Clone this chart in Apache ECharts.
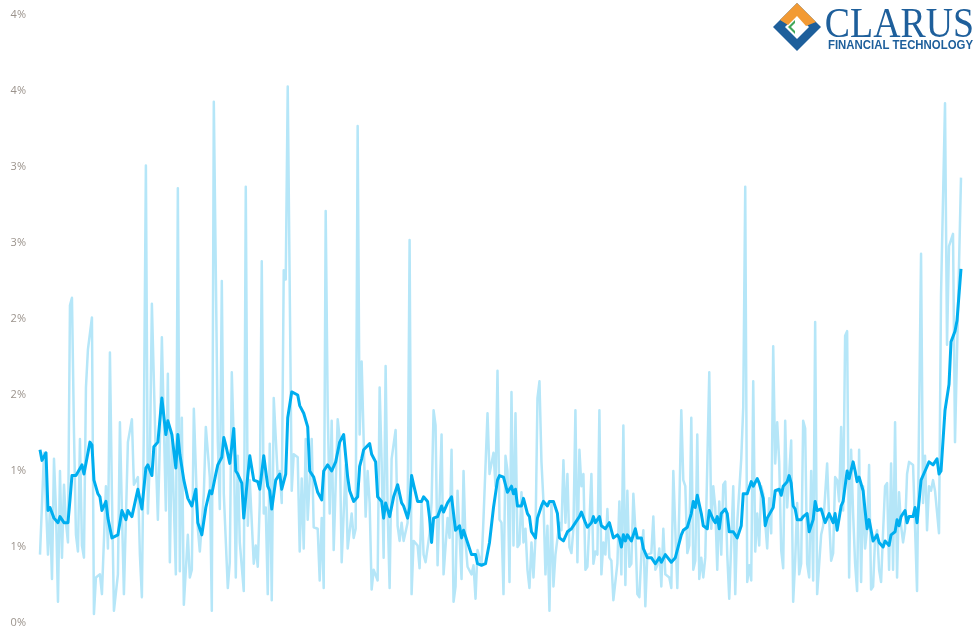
<!DOCTYPE html>
<html>
<head>
<meta charset="utf-8">
<script src="https://cdn.jsdelivr.net/npm/echarts@6/dist/echarts.min.js"></script>
<style>html,body{margin:0;padding:0;background:#fff;}#chart{width:976px;height:638px;}</style>
</head>
<body>
<div id="chart"></div>
<script>
// Trading-day index and daily value (%)
var dailyData = [[0,0.45],[2,1.12],[4,0.45],[5,0.76],[6,0.29],[7,1.08],[8,0.74],[9,0.14],[10,1.00],[11,0.43],[12,0.91],[13,0.66],[14,0.53],[15,2.09],[16,2.14],[17,1.26],[18,0.58],[19,0.47],[20,1.21],[21,0.51],[22,0.43],[23,1.55],[24,1.80],[26,2.01],[27,0.06],[28,0.30],[29,0.29],[30,0.32],[31,0.19],[33,0.90],[34,0.49],[35,1.78],[36,0.85],[37,0.08],[39,0.32],[40,1.32],[41,0.74],[42,0.19],[44,1.19],[46,1.34],[47,0.91],[49,0.96],[50,0.45],[51,0.17],[52,1.30],[53,3.01],[54,0.72],[55,1.08],[56,2.10],[58,1.08],[59,0.68],[60,1.19],[61,1.88],[63,0.74],[64,1.64],[65,0.40],[66,1.24],[68,0.32],[69,2.86],[70,0.34],[71,1.35],[72,0.12],[74,0.58],[75,0.30],
[76,0.35],[77,1.41],[79,0.62],[80,0.47],[81,0.48],[82,0.85],[83,1.29],[85,0.96],[86,0.08],[87,3.43],[89,1.19],[90,0.75],[91,2.25],[92,0.85],[94,0.23],[95,0.40],[96,1.65],[97,1.19],[98,0.30],[99,1.10],[100,0.53],[102,0.21],[103,2.87],[104,0.64],[105,0.94],[107,0.39],[108,0.51],[109,0.37],[110,0.79],[111,2.38],[112,0.72],[113,0.76],[114,0.19],[115,1.18],[116,0.15],[117,1.48],[119,0.96],[120,1.00],[121,0.79],[122,2.32],[123,2.26],[124,3.53],[126,0.87],[127,1.11],[129,1.09],[130,0.47],[131,0.95],[132,0.49],[133,1.21],[134,0.68],[136,1.21],[137,0.63],[139,0.62],[140,0.28],[141,0.69],[142,0.23],[143,2.71],[144,1.42],[145,0.72],[146,1.33],[147,0.48],[149,1.34],
[150,1.22],[151,0.40],[153,1.04],[154,0.49],[156,0.72],[157,0.56],[158,0.62],[159,3.27],[160,1.24],[161,1.72],[163,0.70],[164,1.00],[165,0.79],[166,0.22],[167,0.35],[169,0.28],[170,1.55],[171,1.06],[172,0.43],[173,1.69],[174,0.74],[175,0.23],[176,1.08],[178,1.27],[179,0.64],[180,0.54],[181,0.66],[182,0.54],[184,0.66],[185,2.52],[186,0.19],[187,0.54],[189,0.51],[190,0.36],[191,0.79],[192,0.45],[193,0.40],[195,0.59],[196,0.79],[197,1.40],[198,1.30],[199,0.38],[201,1.24],[202,0.32],[204,0.69],[205,0.56],[206,1.14],[207,0.14],[208,0.24],[209,0.87],[211,0.29],[212,1.00],[213,0.53],[214,0.37],[216,0.32],[217,0.38],[218,0.16],[219,0.48],[220,0.49],[221,0.38],[222,0.69],[224,1.38],[225,0.98],
[227,1.12],[228,0.90],[229,1.66],[230,0.68],[231,0.66],[232,0.19],[233,1.10],[234,1.00],[235,0.27],[236,1.52],[237,0.51],[238,1.38],[239,0.50],[240,0.52],[241,0.86],[242,0.53],[243,0.62],[244,0.35],[245,0.23],[246,0.53],[247,0.30],[248,0.56],[249,1.48],[250,1.59],[251,1.06],[252,0.80],[253,0.32],[254,0.64],[255,0.08],[256,0.80],[257,0.24],[258,0.45],[260,0.66],[261,0.61],[262,1.07],[263,0.66],[264,0.98],[265,0.50],[266,0.46],[267,0.62],[268,1.40],[269,0.40],[270,1.14],[271,0.90],[272,0.98],[273,0.35],[274,0.37],[275,0.66],[276,0.98],[277,0.39],[278,0.47],[279,0.45],[280,1.40],[281,0.32],[282,0.53],[283,0.45],[284,0.75],[285,0.43],[286,0.41],[287,0.15],[289,0.39],[290,0.80],[291,0.32],[292,1.30],[293,0.25],[294,0.87],[295,0.37],[296,0.39],[297,0.85],[298,0.62],[299,0.19],[300,0.17],[301,0.45],[302,0.61],
[303,0.11],[304,0.45],[306,0.46],[307,0.70],[308,0.35],[309,0.38],[310,0.49],[311,0.24],[312,0.62],[313,0.32],[315,0.30],[316,0.23],[317,1.00],[319,0.23],[320,0.76],[321,1.40],[322,0.94],[323,0.90],[324,0.46],[325,0.51],[326,1.35],[327,0.35],[328,0.41],[329,1.24],[330,0.29],[331,0.43],[332,0.30],[333,0.43],[335,1.65],[336,0.62],[337,0.90],[338,0.76],[339,0.35],[340,0.80],[341,0.45],[342,0.91],[343,0.93],[344,0.45],[345,0.16],[346,0.53],[347,0.90],[348,0.19],[349,0.66],[351,1.08],[352,1.42],[353,2.87],[354,0.27],[355,0.38],[356,0.28],[357,1.59],[358,0.47],[359,0.72],[360,0.51],[361,0.90],[362,0.85],[363,0.66],[364,0.49],[365,0.82],[366,0.59],[367,1.82],[368,1.05],[369,1.32],[370,1.06],[371,0.48],[372,0.36],[373,1.33],[374,0.76],[375,0.75],[376,1.20],[377,0.14],[378,0.41],[379,0.79],[380,0.32],[381,0.39],[382,1.33],
[383,1.28],[384,0.39],[385,0.30],[386,1.00],[387,0.28],[388,1.98],[389,0.19],[390,0.19],[391,0.58],[392,0.64],[394,1.05],[395,0.68],[396,0.41],[397,0.46],[398,0.96],[399,0.94],[400,0.80],[401,1.29],[402,0.74],[403,1.89],[404,1.92],[405,0.30],[406,1.14],[407,0.72],[408,0.39],[409,0.21],[410,1.14],[411,0.27],[412,0.90],[413,0.49],[414,0.62],[415,1.04],[416,0.22],[417,0.24],[418,0.56],[419,0.61],[420,0.35],[421,0.27],[422,0.60],[423,0.90],[424,0.92],[425,0.35],[426,1.05],[427,0.35],[428,1.32],[429,0.30],[430,0.86],[431,0.64],[432,0.53],[433,0.62],[434,0.98],[435,1.06],[437,1.04],[439,0.21],[441,2.43],[442,0.79],[443,1.10],[444,0.61],[445,0.90],[446,0.87],[447,0.94],[448,0.87],[450,0.59],[451,2.16],[453,3.42],[454,1.83],[455,2.48],[457,2.56],[458,1.19],[461,2.93]];

// Moving average (%)
var avgData = [[0,1.14],[1,1.07],[3,1.12],[4,0.74],[5,0.76],[7,0.69],[9,0.66],[10,0.70],[12,0.66],[14,0.66],[15,0.81],[16,0.97],[18,0.97],[21,1.04],[22,0.98],[25,1.19],[26,1.17],[27,0.94],[29,0.85],[30,0.83],[31,0.74],[33,0.80],[34,0.69],[36,0.56],[39,0.58],[41,0.74],[43,0.68],[44,0.74],[46,0.70],[48,0.82],[49,0.88],[51,0.75],[53,1.02],[54,1.04],[56,0.97],[57,1.16],[59,1.19],[61,1.48],[63,1.24],[64,1.33],[66,1.24],[68,1.02],[69,1.24],[70,1.11],[72,0.94],[74,0.82],[76,0.77],[78,0.88],[79,0.66],[81,0.58],[83,0.76],[85,0.87],[86,0.85],[88,0.98],[89,1.04],[91,1.09],[92,1.22],[93,1.17],[95,1.05],[97,1.28],[98,1.00],[99,0.98],[101,0.92],[102,0.69],[104,0.97],[105,1.10],[107,0.94],[109,0.93],[110,0.88],[112,1.10],[114,0.90],[115,0.87],[116,0.75],[118,0.94],[120,0.98],[121,0.88],[123,0.98],[124,1.35],[126,1.52],[129,1.50],[130,1.43],[132,1.38],[134,1.29],[135,1.00],[137,0.96],[139,0.86],[141,0.81],[142,1.00],[144,1.04],[146,1.00],[148,1.06],[150,1.19],[152,1.24],[154,0.96],[155,0.87],[157,0.80],[159,0.83],[160,1.03],[161,1.08],[162,1.14],[163,1.14],[165,1.18],[166,1.11],[168,1.06],[169,0.83],[171,0.80],[172,0.69],[173,0.79],[175,0.70],[177,0.83],[179,0.91],[181,0.79],[182,0.77],[184,0.69],[185,0.76],[186,0.97],[187,0.91],[189,0.80],[191,0.80],[192,0.83],[194,0.80],[195,0.69],[196,0.53],[197,0.69],[199,0.70],[201,0.77],[202,0.73],[204,0.79],[206,0.83],[208,0.61],[210,0.64],[211,0.56],[212,0.61],[214,0.53],[216,0.45],[218,0.45],[219,0.39],[221,0.38],[223,0.39],[225,0.53],[227,0.76],[229,0.94],[230,0.97],[232,0.96],[233,0.97],[234,0.86],[236,0.90],[237,0.85],[238,0.88],[239,0.77],[241,0.77],[242,0.82],[244,0.72],[245,0.70],[246,0.60],[248,0.56],[249,0.69],[251,0.77],[252,0.80],[254,0.77],[255,0.80],[257,0.80],[259,0.72],[260,0.56],[262,0.54],[264,0.60],[266,0.62],[268,0.66],[270,0.70],[271,0.73],[273,0.66],[274,0.63],[276,0.66],[277,0.70],[278,0.66],[280,0.70],[281,0.64],[283,0.62],[285,0.66],[287,0.56],[289,0.58],[290,0.56],[291,0.50],[292,0.58],[293,0.54],[294,0.58],[296,0.54],[298,0.62],[299,0.56],[301,0.56],[302,0.49],[303,0.48],[304,0.43],[306,0.43],[308,0.39],[310,0.43],[311,0.40],[313,0.45],[316,0.40],[318,0.43],[319,0.43],[321,0.58],[322,0.61],[324,0.63],[326,0.72],[327,0.80],[328,0.76],[329,0.84],[331,0.72],[332,0.64],[334,0.62],[335,0.74],[337,0.68],[338,0.66],[339,0.70],[340,0.62],[341,0.72],[343,0.75],[344,0.72],[345,0.60],[347,0.60],[349,0.56],[351,0.64],[352,0.85],[354,0.85],[355,0.86],[356,0.93],[357,0.90],[359,0.95],[360,0.92],[362,0.82],[363,0.64],[364,0.69],[367,0.76],[368,0.87],[370,0.88],[371,0.84],[372,0.90],[374,0.93],[375,0.97],[376,0.92],[377,0.77],[378,0.75],[379,0.68],[381,0.68],[382,0.70],[384,0.72],[385,0.60],[387,0.68],[388,0.80],[389,0.74],[391,0.75],[393,0.66],[395,0.72],[397,0.66],[398,0.72],[399,0.61],[401,0.77],[402,0.80],[404,1.00],[405,0.95],[407,1.06],[408,1.00],[409,0.93],[410,0.96],[412,0.87],[413,0.74],[414,0.62],[415,0.68],[417,0.54],[419,0.58],[420,0.53],[422,0.50],[423,0.54],[425,0.51],[426,0.58],[428,0.60],[429,0.68],[430,0.64],[431,0.70],[433,0.74],[434,0.66],[435,0.70],[437,0.70],[438,0.76],[439,0.66],[441,0.94],[442,0.95],[443,1.00],[445,1.06],[447,1.04],[448,1.03],[449,1.08],[450,0.98],[451,1.00],[453,1.40],[455,1.57],[456,1.85],[458,1.92],[459,1.99],[461,2.33]];

var yTicks = {min: 0, max: 4, step: 0.5};
var logoTitle = 'CLARUS';
var logoSubtitle = 'FINANCIAL TECHNOLOGY';

var chart = echarts.init(document.getElementById('chart'), null, {renderer: 'canvas'});
chart.setOption({
  animation: false,
  backgroundColor: '#ffffff',
  grid: {left: 39, right: 15, top: 15, bottom: 15, containLabel: false},
  xAxis: {type: 'value', min: -0.5, max: 461, show: false},
  yAxis: {
    type: 'value', min: yTicks.min, max: yTicks.max, interval: yTicks.step,
    axisLine: {show: false}, axisTick: {show: false}, splitLine: {show: false},
    axisLabel: {
      color: '#9b938c', fontSize: 11, fontFamily: 'Open Sans', margin: 13,
      padding: [4, 0, 0, 0],
      formatter: function (v) { return Math.round(v) + '%'; }
    }
  },
  series: [
    {type: 'line', data: dailyData, showSymbol: false, symbol: 'none',
     lineStyle: {color: '#b5e6f8', width: 2.5, join: 'round'}, z: 1},
    {type: 'line', data: avgData, showSymbol: false, symbol: 'none',
     lineStyle: {color: '#00aeef', width: 3, join: 'round'}, z: 2}
  ],
  graphic: [
    {type: 'polygon', shape: {points: [[797,3],[821,27],[797,51],[773,27]]}, style: {fill: '#1e5f9b'}, z: 10},
    {type: 'polygon', shape: {points: [[797,15],[809,27],[797,39],[785,27]]}, style: {fill: '#ffffff'}, z: 11},
    {type: 'polygon', shape: {points: [[780,20],[797,3],[816,22],[806,26],[797,16],[788,25]]}, style: {fill: '#f29a34'}, z: 12},
    {type: 'polygon', shape: {points: [[788,27],[795,20],[795,34]]}, style: {fill: '#3fa65a'}, z: 13},
    {type: 'polygon', shape: {points: [[791,27],[795,23],[795,31]]}, style: {fill: '#ffffff'}, z: 14},
    {type: 'text', x: 974, y: 5, z: 15, scaleX: 0.9, style: {text: logoTitle, font: '42px "Liberation Serif"', fill: '#1e5f9b', textAlign: 'right', textVerticalAlign: 'top'}},
    {type: 'text', x: 973, y: 40, z: 15, scaleX: 0.95, style: {text: logoSubtitle, font: 'bold 12px "Liberation Sans"', fill: '#1e5f9b', textAlign: 'right', textVerticalAlign: 'top'}}
  ]
});
</script>
</body>
</html>
